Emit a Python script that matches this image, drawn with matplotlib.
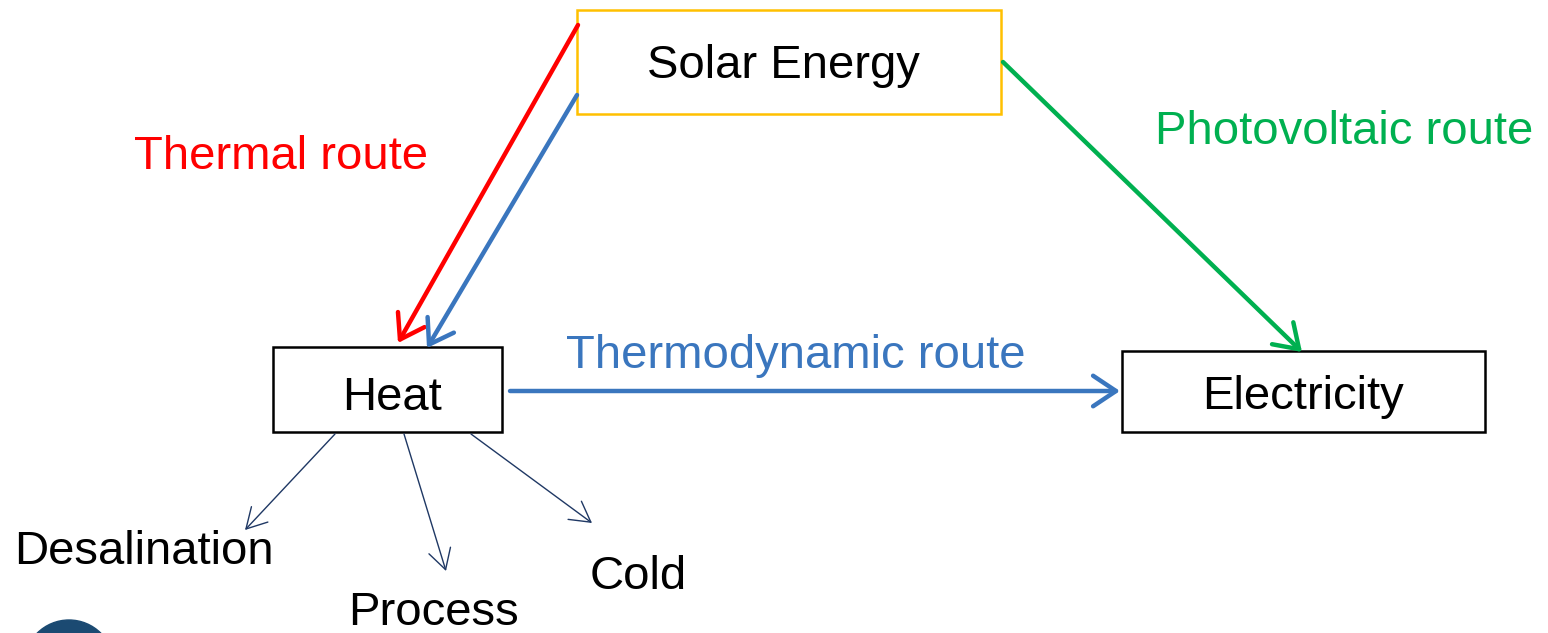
import matplotlib.pyplot as plt
from matplotlib.patches import Rectangle, FancyArrowPatch, Circle

plt.rcParams['font.family'] = ['Liberation Sans', 'DejaVu Sans']

W, H = 1548, 633

# Boites : (texte, x0, y0, x1, y1, couleur bord)
box_labels = ['Solar Energy', 'Heat', 'Electricity']
box_x0 = [577, 273, 1122]
box_y0 = [10, 347, 351]
box_x1 = [1001, 502, 1485]
box_y1 = [114, 432, 432]
box_text_x = [783, 392, 1303]
box_text_y = [66, 398, 397]
box_edges = ['#FFC000', 'black', 'black']

# Routes principales
route_starts = [(578, 25), (577, 95), (1003, 62), (510, 391)]
route_ends = [(398, 343), (427, 348), (1302, 352), (1120, 391)]
route_colors = ['#FF0000', '#3A76BE', '#00B050', '#3A76BE']

# Usages de la chaleur
use_starts = [(335, 434), (404, 434), (471, 434)]
use_ends = [(245, 530), (446, 571), (592, 523)]

# Textes libres
text_labels = ['Thermal route', 'Photovoltaic route', 'Thermodynamic route',
               'Desalination', 'Process', 'Cold']
text_x = [281, 1344, 796, 144, 434, 638]
text_y = [157, 132, 356, 552, 613, 577]
text_colors = ['#FF0000', '#00B050', '#3A76BE', 'black', 'black', 'black']

fig = plt.figure(figsize=(W / 100, H / 100), dpi=100)
ax = fig.add_axes([0, 0, 1, 1])
ax.set_xlim(0, W)
ax.set_ylim(H, 0)
ax.axis('off')

for label, x0, y0, x1, y1, tx, ty, ec in zip(box_labels, box_x0, box_y0, box_x1, box_y1,
                                             box_text_x, box_text_y, box_edges):
    ax.add_patch(Rectangle((x0, y0), x1 - x0, y1 - y0, facecolor='white',
                           edgecolor=ec, linewidth=1.8, zorder=2))
    ax.text(tx, ty, label, ha='center', va='center', fontsize=34, zorder=3)

for start, end, color in zip(route_starts, route_ends, route_colors):
    ax.add_patch(FancyArrowPatch(start, end, arrowstyle='->,head_length=0.75,head_width=0.5',
                                 mutation_scale=22, color=color, linewidth=3.2,
                                 shrinkA=0, shrinkB=0, zorder=4))

for start, end in zip(use_starts, use_ends):
    ax.add_patch(FancyArrowPatch(start, end, arrowstyle='->,head_length=0.8,head_width=0.45',
                                 mutation_scale=18, color='#1F3864', linewidth=1,
                                 shrinkA=0, shrinkB=0, zorder=4))

for label, x, y, color in zip(text_labels, text_x, text_y, text_colors):
    ax.text(x, y, label, ha='center', va='center', fontsize=34, color=color)

# Logo coupe en bas a gauche
ax.add_patch(Circle((69, 665), 45, color='#1B4A72', zorder=1))

plt.savefig('out.png', dpi=100)
plt.close()
